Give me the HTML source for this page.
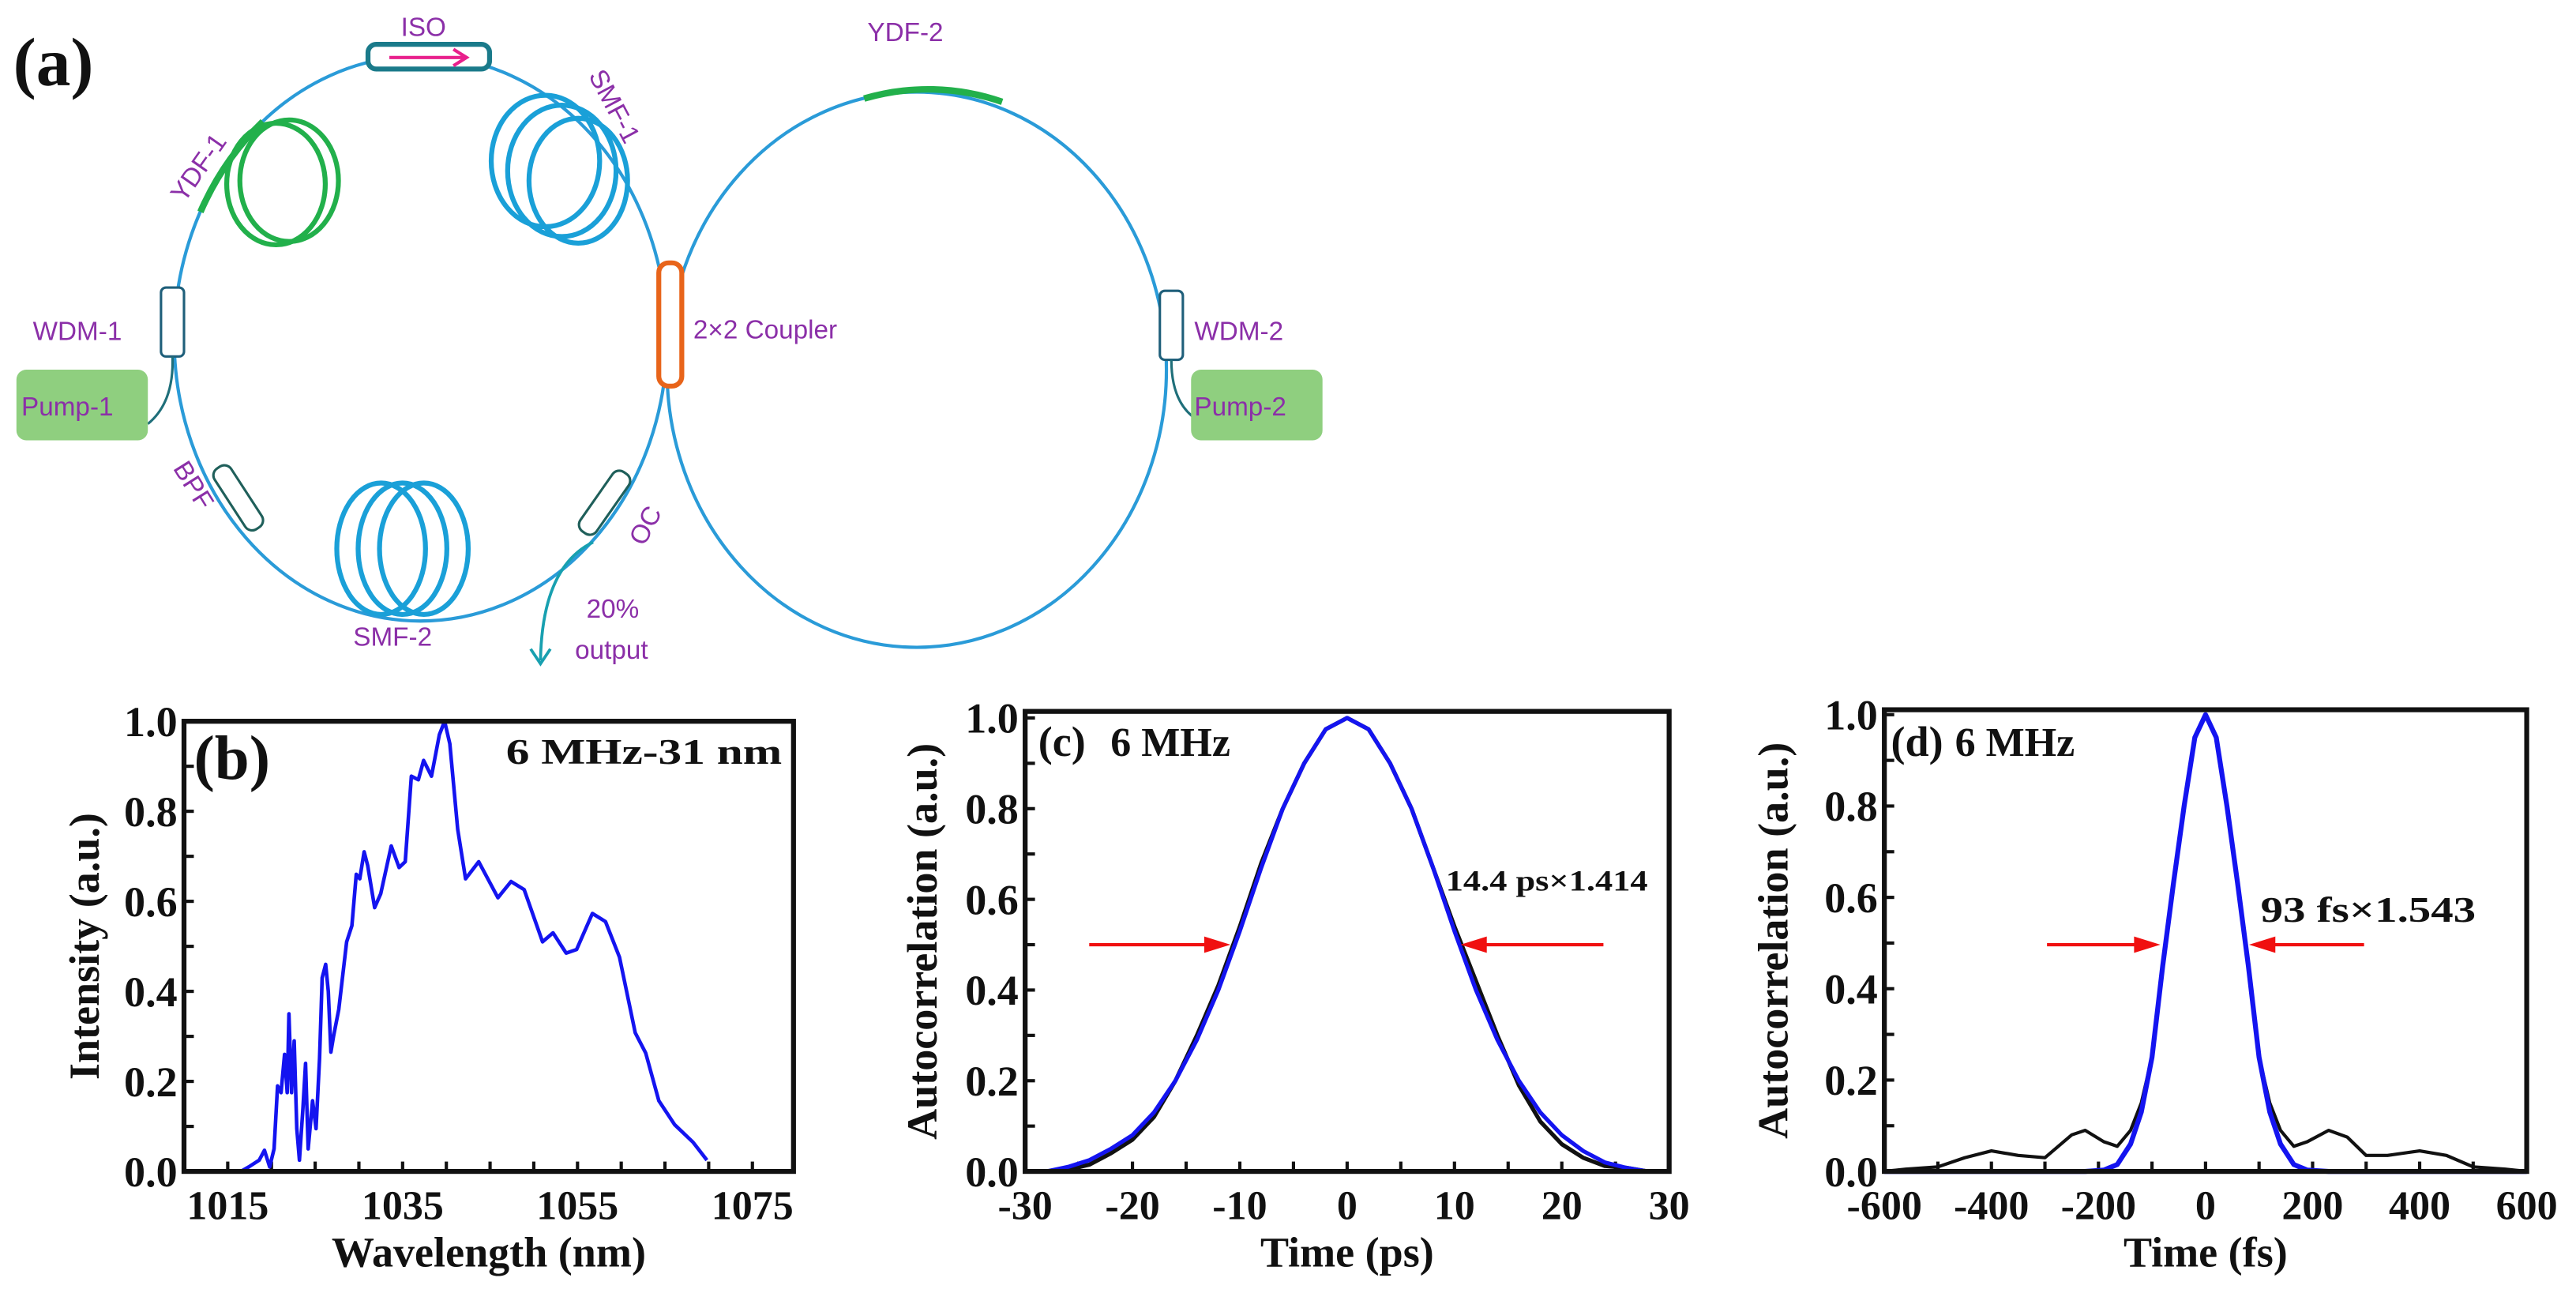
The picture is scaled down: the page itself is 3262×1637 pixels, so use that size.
<!DOCTYPE html>
<html><head><meta charset="utf-8"><style>
html,body{margin:0;padding:0;background:#fff;}
svg{display:block;}
.dg{font-family:"Liberation Sans",sans-serif;fill:#8b2fa8;font-size:16px;}
.ser{font-family:"Liberation Serif",serif;font-weight:bold;fill:#111;}
</style></head><body>
<svg id="fig" width="3262" height="1637" viewBox="0 0 1568 787" preserveAspectRatio="none" xmlns="http://www.w3.org/2000/svg">
<g>
 <text x="8" y="52" class="ser" font-size="42">(a)</text>
 <ellipse cx="256" cy="206" rx="150" ry="172" fill="none" stroke="#2a9bd8" stroke-width="2"/>
 <ellipse cx="558" cy="225" rx="152" ry="169" fill="none" stroke="#2a9bd8" stroke-width="2"/>
 <path d="M122,129 A150,172 0 0 1 160,74" fill="none" stroke="#22b04b" stroke-width="4"/>
 <path d="M526,60 A152,169 0 0 1 610,62" fill="none" stroke="#22b04b" stroke-width="4"/>
 <g fill="none" stroke="#22b04b" stroke-width="3">
  <ellipse cx="168" cy="112" rx="30" ry="37"/><ellipse cx="176" cy="110" rx="30" ry="37"/>
 </g>
 <g fill="none" stroke="#1aa0d8" stroke-width="3">
  <ellipse cx="332" cy="98" rx="33" ry="40"/><ellipse cx="342" cy="104" rx="33" ry="40"/><ellipse cx="352" cy="110" rx="30" ry="38"/>
 </g>
 <g fill="none" stroke="#1aa0d8" stroke-width="3">
  <ellipse cx="232" cy="334" rx="27" ry="40"/><ellipse cx="245" cy="334" rx="27" ry="40"/><ellipse cx="258" cy="334" rx="27" ry="40"/>
 </g>
 <text x="244" y="22" class="dg">ISO</text>
 <rect x="224" y="27" width="74" height="15" rx="5" fill="#fff" stroke="#1a7a8a" stroke-width="3"/>
 <path d="M237,35 H283 M276,30 L284,35 L276,40" fill="none" stroke="#e8208c" stroke-width="2"/>
 <text x="0" y="0" class="dg" transform="translate(112,124) rotate(-55)">YDF-1</text>
 <text x="0" y="0" class="dg" transform="translate(358,46) rotate(62)">SMF-1</text>
 <text x="528" y="25" class="dg">YDF-2</text>
 <rect x="401" y="160" width="14" height="75" rx="6" fill="#fff" stroke="#e8641a" stroke-width="3"/>
 <text x="422" y="206" class="dg">2×2 Coupler</text>
 <rect x="98" y="175" width="14" height="42" rx="3" fill="#fff" stroke="#1f5f7a" stroke-width="1.5"/>
 <text x="20" y="207" class="dg">WDM-1</text>
 <path d="M105,217 Q106,245 90,258" fill="none" stroke="#1f6f7a" stroke-width="1.5"/>
 <rect x="10" y="225" width="80" height="43" rx="6" fill="#8fcf7f"/>
 <text x="13" y="253" class="dg">Pump-1</text>
 <rect x="706" y="177" width="14" height="42" rx="3" fill="#fff" stroke="#1f5f7a" stroke-width="1.5"/>
 <text x="727" y="207" class="dg">WDM-2</text>
 <path d="M713,219 Q713,245 728,255" fill="none" stroke="#1f6f7a" stroke-width="1.5"/>
 <rect x="725" y="225" width="80" height="43" rx="6" fill="#8fcf7f"/>
 <text x="727" y="253" class="dg">Pump-2</text>
 <rect x="-6" y="-22" width="12" height="44" rx="5" fill="#fff" stroke="#1f5f5a" stroke-width="1.5" transform="translate(145,303) rotate(-33)"/>
 <text x="0" y="0" class="dg" transform="translate(105,285) rotate(58)">BPF</text>
 <rect x="-6" y="-22" width="12" height="44" rx="5" fill="#fff" stroke="#1f5f5a" stroke-width="1.5" transform="translate(368,306) rotate(35)"/>
 <text x="0" y="0" class="dg" transform="translate(392,333) rotate(-62)">OC</text>
 <path d="M361,330 Q330,345 329,402" fill="none" stroke="#18a0b0" stroke-width="1.8"/>
 <path d="M323,395 L329,404 L335,395" fill="none" stroke="#18a0b0" stroke-width="1.8"/>
 <text x="215" y="393" class="dg">SMF-2</text>
 <text x="357" y="376" class="dg">20%</text>
 <text x="350" y="401" class="dg">output</text>
</g>
<g id="charts"></g>
</svg>
<script>
// Panel (b) spectrum
const bWavelength=[1010,1016.5,1017.4,1018.6,1019.2,1019.8,1020.3,1020.7,1021.1,1021.5,1021.8,1022.0,1022.3,1022.6,1022.9,1023.2,1023.6,1023.9,1024.2,1024.7,1025.1,1025.5,1025.8,1026.2,1026.5,1026.8,1027.1,1027.7,1028.6,1029.2,1029.7,1030.1,1030.6,1031.0,1031.8,1032.5,1033.7,1034.6,1035.3,1036.0,1036.8,1037.4,1038.3,1039.2,1039.8,1040.4,1041.3,1042.2,1043.7,1045.9,1047.4,1048.9,1051.0,1052.2,1053.7,1054.9,1056.7,1058.2,1059.8,1061.6,1062.8,1064.3,1066.1,1068.2,1069.8];
const bIntensity=[0,0,0.01,0.025,0.047,0.01,0.05,0.19,0.175,0.26,0.175,0.35,0.175,0.29,0.095,0.025,0.14,0.24,0.05,0.157,0.095,0.25,0.43,0.46,0.4,0.265,0.3,0.36,0.51,0.546,0.66,0.65,0.71,0.68,0.586,0.617,0.723,0.675,0.688,0.878,0.87,0.913,0.878,0.97,1.0,0.95,0.76,0.65,0.688,0.608,0.644,0.626,0.51,0.53,0.485,0.493,0.573,0.555,0.476,0.308,0.263,0.157,0.104,0.065,0.025];
const bXTicks=[1015,1035,1055,1075];
// Panel (c) ps autocorrelation
const cTime=[-28,-26,-24,-22,-20,-18,-16,-14,-12,-10,-8,-6,-4,-2,0,2,4,6,8,10,12,14,16,18,20,22,24,26,28];
const cFit=[0,0.01,0.025,0.05,0.08,0.13,0.2,0.29,0.4,0.53,0.67,0.8,0.9,0.975,1,0.975,0.9,0.8,0.67,0.53,0.4,0.29,0.2,0.13,0.08,0.045,0.02,0.008,0];
const cMeas=[0,0.004,0.015,0.04,0.07,0.12,0.2,0.3,0.41,0.54,0.68,0.8,0.9,0.975,1,0.975,0.9,0.8,0.67,0.54,0.42,0.3,0.19,0.11,0.06,0.03,0.012,0.008,0];
const cXTicks=[-30,-20,-10,0,10,20,30];
// Panel (d) fs autocorrelation
const dTime=[-600,-560,-500,-450,-400,-350,-300,-250,-225,-190,-165,-140,-120,-100,-80,-60,-40,-20,0,20,40,60,80,100,120,140,165,190,230,265,300,340,400,450,500,560,600];
const dMeas=[0,0.005,0.01,0.03,0.045,0.035,0.03,0.08,0.09,0.065,0.055,0.09,0.15,0.25,0.45,0.63,0.8,0.95,1,0.95,0.8,0.63,0.45,0.25,0.15,0.09,0.055,0.065,0.09,0.075,0.035,0.035,0.045,0.035,0.01,0.005,0];
const dFit=[0,0,0,0,0,0,0,0,0,0.003,0.015,0.06,0.13,0.25,0.45,0.63,0.8,0.95,1,0.95,0.8,0.63,0.45,0.25,0.13,0.06,0.015,0.003,0,0,0,0,0,0,0,0,0];
const dXTicks=[-600,-400,-200,0,200,400,600];
const yTicks=[0,0.2,0.4,0.6,0.8,1.0];

const NS="http://www.w3.org/2000/svg";
const root=document.getElementById('charts');
function mk(tag,attrs,parent,txt){const e=document.createElementNS(NS,tag);for(const k in attrs)e.setAttribute(k,attrs[k]);if(txt!==undefined)e.textContent=txt;(parent||root).appendChild(e);return e;}

function panel(o){
  const g=mk('g',{});
  
  
  const X=v=>o.L+(v-o.x0)/(o.x1-o.x0)*(o.R-o.L);
  const Y=v=>o.B-(v-o.y0)/(o.y1-o.y0)*(o.B-o.y1p);
  for(let v=o.minorStart;v<=o.x1+1e-9;v+=o.minorStep){const x=X(v);if(x<o.L-1||x>o.R+1)continue;mk('line',{x1:x,y1:o.B,x2:x,y2:o.B-6,stroke:'#111','stroke-width':2},g);}
  for(let i=0;i<=10;i++){const y=Y(i/10);mk('line',{x1:o.L,y1:y,x2:o.L+6,y2:y,stroke:'#111','stroke-width':2},g);}
  o.series.forEach(s=>{
    const p=mk('polyline',{points:s.x.map((v,i)=>X(v).toFixed(2)+','+Y(s.y[i]).toFixed(2)).join(' '),fill:'none',stroke:s.c,'stroke-width':s.w,'stroke-linejoin':'round'},g);
    
    
  });
  const box=mk('rect',{x:o.L,y:o.T,width:o.R-o.L,height:o.B-o.T,fill:'none',stroke:'#111','stroke-width':3},g);
  
  
  o.xt.forEach(v=>{const t=mk('text',{x:X(v),y:742,'text-anchor':'middle',class:'ser','font-size':25},g,(v<0?'-':'')+Math.abs(v));
    
    });
  yTicks.forEach(v=>{const t=mk('text',{x:o.L-4,y:Y(v)+9,'text-anchor':'end',class:'ser','font-size':26},g,v.toFixed(1));
    
    });
  const xl=mk('text',{x:(o.L+o.R)/2,y:771,'text-anchor':'middle',class:'ser','font-size':26},g,o.xlabel);
  
  
  const yl=mk('text',{x:0,y:0,transform:'translate('+o.ylx+','+((o.T+o.B)/2)+') rotate(-90)','text-anchor':'middle',class:'ser','font-size':26},g,o.ylabel);
  
  
  return {g,X,Y};
}

const pb=panel({name:'panel-b-spectrum',L:112,R:483,T:439,B:713,y1p:439,x0:1010,x1:1079.7,y0:0,y1:1,minorStart:1015,minorStep:5,
  xt:bXTicks,xlabel:'Wavelength (nm)',ylabel:'Intensity (a.u.)',ylx:60,
  series:[{x:bWavelength,y:bIntensity,c:'#1414f0',w:2.2,n:'spectrum-line'}]});
let t=mk('text',{x:118,y:474,class:'ser','font-size':38},pb.g,'(b)');


t=mk('text',{x:308,y:465,class:'ser','font-size':22,textLength:168,lengthAdjust:'spacingAndGlyphs'},pb.g,'6 MHz-31 nm');



const pc=panel({name:'panel-c-ps-autocorrelation',L:624,R:1016,T:433,B:713,y1p:437,x0:-30,x1:30,y0:0,y1:1,minorStart:-30,minorStep:5,
  xt:cXTicks,xlabel:'Time (ps)',ylabel:'Autocorrelation (a.u.)',ylx:570,
  series:[{x:cTime,y:cMeas,c:'#111',w:2.5,n:'measured-trace'},{x:cTime,y:cFit,c:'#1414f0',w:2.5,n:'fit-curve'}]});
t=mk('text',{x:632,y:460,class:'ser','font-size':26},pc.g,'(c)');


t=mk('text',{x:676,y:460,class:'ser','font-size':25,'font-weight':'normal'},pc.g,'6 MHz');


t=mk('text',{x:880,y:542,class:'ser','font-size':18,textLength:123,lengthAdjust:'spacingAndGlyphs'},pc.g,'14.4 ps×1.414');



const pd=panel({name:'panel-d-fs-autocorrelation',L:1147,R:1538,T:432,B:713,y1p:435,x0:-600,x1:600,y0:0,y1:1,minorStart:-600,minorStep:100,
  xt:dXTicks,xlabel:'Time (fs)',ylabel:'Autocorrelation (a.u.)',ylx:1088,
  series:[{x:dTime,y:dMeas,c:'#111',w:2,n:'measured-trace'},{x:dTime,y:dFit,c:'#1414f0',w:3,n:'fit-curve'}]});
t=mk('text',{x:1151,y:460,class:'ser','font-size':26},pd.g,'(d)');


t=mk('text',{x:1190,y:460,class:'ser','font-size':25,'font-weight':'normal'},pd.g,'6 MHz');


t=mk('text',{x:1376,y:561,class:'ser','font-size':22,textLength:131,lengthAdjust:'spacingAndGlyphs'},pd.g,'93 fs×1.543');



function arrow(g,x1,x2,y){
  const dir=Math.sign(x2-x1);
  const a=mk('g',{},g);
  
  
  mk('line',{x1:x1,y1:y,x2:x2-dir*4,y2:y,stroke:'#f01010','stroke-width':2},a);
  mk('polygon',{points:(x2)+','+y+' '+(x2-dir*16)+','+(y-5)+' '+(x2-dir*16)+','+(y+5),fill:'#f01010'},a);
}
arrow(pc.g,663,749,575);arrow(pc.g,976,889,575);
arrow(pd.g,1246,1315,575);arrow(pd.g,1439,1369,575);
</script>
</body></html>
